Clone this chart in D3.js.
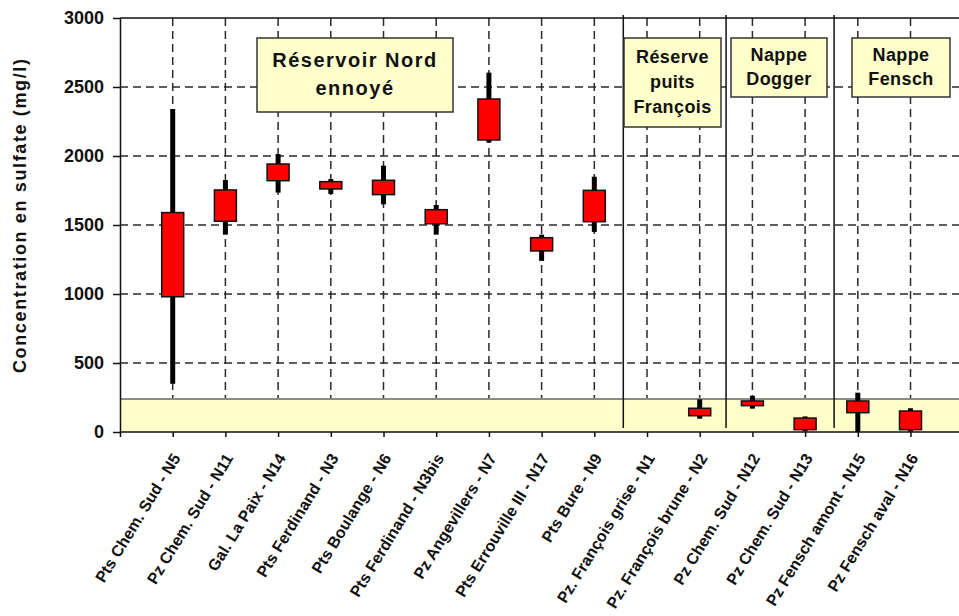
<!DOCTYPE html>
<html>
<head>
<meta charset="utf-8">
<script src="https://cdn.jsdelivr.net/npm/d3@7/dist/d3.min.js"></script>
<style>
  html, body { margin: 0; padding: 0; background: #fff; }
  svg { display: block; font-family: "Liberation Sans", Arial, sans-serif; }
</style>
</head>
<body>
<svg id="chart" width="959" height="616"></svg>
<script>
// ---- data ----
const categories = [
  "Pts Chem. Sud - N5", "Pz Chem. Sud - N11", "Gal. La Paix - N14", "Pts Ferdinand - N3",
  "Pts Boulange - N6", "Pts Ferdinand - N3bis", "Pz Angevillers - N7", "Pts Errouville III - N17",
  "Pts Bure - N9", "Pz. François grise - N1", "Pz. François brune - N2", "Pz Chem. Sud - N12",
  "Pz Chem. Sud - N13", "Pz Fensch amont - N15", "Pz Fensch aval - N16"
];
const lowValues  = [350, 1430, 1735, 1725, 1650, 1430, 2097, 1240, 1450, null,  96, 169,   5,   0,   3];
const boxBottom  = [980, 1527, 1821, 1761, 1720, 1509, 2116, 1312, 1524, null, 118, 191,  17, 140,  17];
const boxTop     = [1590, 1754, 1942, 1814, 1824, 1611, 2413, 1408, 1751, null, 172, 225, 101, 225, 152];
const highValues = [2340, 1826, 2014, 1833, 1930, 1645, 2604, 1430, 1850, null, 237, 263, 113, 285, 172];
const yTicks = [0, 500, 1000, 1500, 2000, 2500, 3000];
const referenceLimit = 240;
const groupSeparators = [9.55, 11.5, 13.55];
const groupLabels = [
  ["Réservoir Nord", "ennoyé"],
  ["Réserve", "puits", "François"],
  ["Nappe", "Dogger"],
  ["Nappe", "Fensch"]
];
const yTitle = "Concentration en sulfate (mg/l)";

// ---- layout ----
const svg = d3.select("#chart");
const L = 120, R = 959, T = 18, B = 432;
const x = d3.scaleLinear().domain([0, 15.92]).range([L, R]);
const y = d3.scaleLinear().domain([0, 3000]).range([B, T]);

const rows = categories.map((c, i) => ({
  name: c, pos: i + 1, low: lowValues[i], q1: boxBottom[i], q3: boxTop[i], high: highValues[i]
}));

// dashed gridlines
const grid = svg.append("g");
grid.selectAll("line.h").data(yTicks.filter(v => v > 0 && v < 3000)).join("line")
  .attr("x1", L).attr("x2", R).attr("y1", d => y(d)).attr("y2", d => y(d))
  .attr("stroke", "#2a2a2a").attr("stroke-width", 1.5).attr("stroke-dasharray", "8,5");
grid.selectAll("line.v").data(rows).join("line")
  .attr("x1", d => x(d.pos)).attr("x2", d => x(d.pos)).attr("y1", T).attr("y2", B)
  .attr("stroke", "#2a2a2a").attr("stroke-width", 1.5).attr("stroke-dasharray", "8,5");

// reference band
svg.append("rect")
  .attr("x", L).attr("y", y(referenceLimit)).attr("width", R - L).attr("height", y(0) - y(referenceLimit))
  .attr("fill", "#FFFFCC");
svg.append("line")
  .attr("x1", L).attr("x2", R).attr("y1", y(referenceLimit)).attr("y2", y(referenceLimit))
  .attr("stroke", "#8c8c84").attr("stroke-width", 2);

// top border
svg.append("line").attr("x1", L).attr("x2", R).attr("y1", T).attr("y2", T)
  .attr("stroke", "#111").attr("stroke-width", 1.5);

// group separators
svg.selectAll("line.sep").data(groupSeparators).join("line")
  .attr("x1", d => x(d)).attr("x2", d => x(d)).attr("y1", T - 3).attr("y2", B - 4)
  .attr("stroke", "#111").attr("stroke-width", 1.5);

// y axis
const yAxis = svg.append("g").attr("transform", `translate(${L},0)`)
  .call(d3.axisLeft(y).tickValues(yTicks).tickFormat(d3.format("d"))
    .tickSize(7).tickSizeOuter(0).tickPadding(9));
yAxis.select(".domain").attr("stroke", "#111").attr("stroke-width", 1.5);
yAxis.selectAll(".tick line").attr("stroke", "#111").attr("stroke-width", 1.5);
yAxis.selectAll(".tick text").attr("font-size", 18).attr("font-weight", "bold")
  .attr("font-family", "'Liberation Sans', Arial, sans-serif").attr("fill", "#111");

// x axis
const xAxis = svg.append("g").attr("transform", `translate(0,${B})`)
  .call(d3.axisBottom(x).tickValues(d3.range(0, categories.length + 1)).tickSize(5).tickSizeOuter(0)
    .tickFormat(k => k === 0 ? "" : categories[k - 1]));
xAxis.select(".domain").attr("stroke", "#111").attr("stroke-width", 1.5).attr("d", `M${L},0H${R}`);
xAxis.selectAll(".tick line").attr("stroke", "#111").attr("stroke-width", 1.5);
xAxis.selectAll(".tick text")
  .attr("font-size", 16).attr("font-weight", "bold").attr("fill", "#111")
  .attr("font-family", "'Liberation Sans', Arial, sans-serif")
  .attr("text-anchor", "end").attr("y", 0).attr("dy", "0.72em")
  .attr("transform", "translate(-2,20) rotate(-58.5)");

// candles
const candles = svg.append("g").selectAll("g").data(rows.filter(d => d.q1 != null)).join("g");
candles.append("line")
  .attr("x1", d => x(d.pos)).attr("x2", d => x(d.pos))
  .attr("y1", d => y(d.high)).attr("y2", d => y(d.low))
  .attr("stroke", "#000").attr("stroke-width", 5);
candles.append("rect")
  .attr("x", d => x(d.pos) - 11).attr("width", 22)
  .attr("y", d => y(d.q3)).attr("height", d => y(d.q1) - y(d.q3))
  .attr("fill", "#FF0000").attr("stroke", "#111").attr("stroke-width", 1.5);

// annotation boxes
const boxes = [
  { x0: 257, x1: 453, y0: 38, y1: 112, size: 20, ls: 1.5, base: 67, step: 28 },
  { x0: 624, x1: 721, y0: 38, y1: 127, size: 18, ls: 0.4, base: 63, step: 25 },
  { x0: 731, x1: 827, y0: 38, y1: 97, size: 18, ls: 0.4, base: 61, step: 24 },
  { x0: 852, x1: 950, y0: 38, y1: 97, size: 18, ls: 0.4, base: 61, step: 24 }
];
boxes.forEach((b, i) => {
  const g = svg.append("g");
  g.append("rect").attr("x", b.x0).attr("y", b.y0).attr("width", b.x1 - b.x0).attr("height", b.y1 - b.y0)
    .attr("fill", "#FFFFCC").attr("stroke", "#333").attr("stroke-width", 1.5);
  g.selectAll("text").data(groupLabels[i]).join("text")
    .attr("x", (b.x0 + b.x1) / 2).attr("y", (d, j) => b.base + j * b.step)
    .attr("text-anchor", "middle").attr("font-size", b.size).attr("font-weight", "bold")
    .attr("letter-spacing", b.ls).attr("fill", "#111")
    .text(d => d);
});

// y title
svg.append("text")
  .attr("transform", "translate(26,216) rotate(-90)")
  .attr("text-anchor", "middle").attr("font-size", 18).attr("font-weight", "bold").attr("fill", "#111")
  .attr("textLength", 314).attr("lengthAdjust", "spacing")
  .text(yTitle);
</script>
</body>
</html>
